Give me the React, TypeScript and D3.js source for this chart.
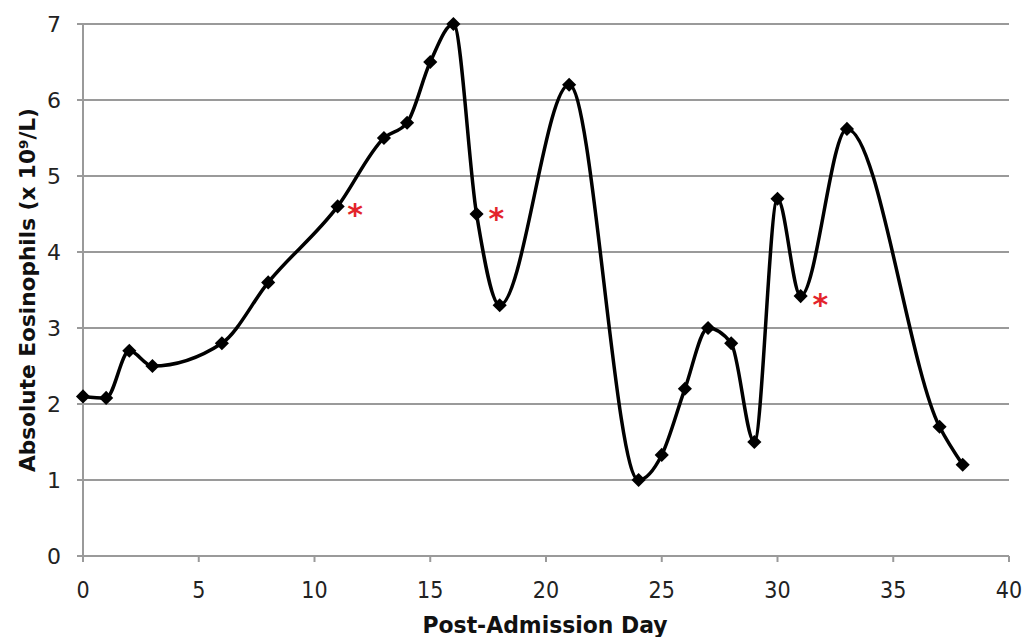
import * as d3 from "d3";

const days = [0, 1, 2, 3, 6, 8, 11, 13, 14, 15, 16, 17, 18, 21, 24, 25, 26, 27, 28, 29, 30, 31, 33, 37, 38];
const eosinophils = [2.1, 2.08, 2.7, 2.5, 2.8, 3.6, 4.6, 5.5, 5.7, 6.5, 7.0, 4.5, 3.3, 6.2, 1.0, 1.33, 2.2, 3.0, 2.8, 1.5, 4.7, 3.42, 5.62, 1.7, 1.2];

const starDays = [11.75, 17.85, 31.85];
const starValues = [4.58, 4.53, 3.39];

const xTicks = [0, 5, 10, 15, 20, 25, 30, 35, 40];
const yTicks = [0, 1, 2, 3, 4, 5, 6, 7];

const W = 1022;
const H = 637;
const margin = { top: 24, right: 13, bottom: 81, left: 83 };

export default function App() {
  const x = d3.scaleLinear().domain([0, 40]).range([margin.left, W - margin.right]);
  const y = d3.scaleLinear().domain([0, 7]).range([H - margin.bottom, margin.top]);

  const pts = days.map((d, i) => [d, eosinophils[i]] as [number, number]);
  const line = d3
    .line<[number, number]>()
    .x((d) => x(d[0]))
    .y((d) => y(d[1]))
    .curve(d3.curveMonotoneX);

  const diamond = d3.symbol(d3.symbolSquare, 100)() ?? "";
  const grid = "#9a9a9a";

  return (
    <svg
      width={W}
      height={H}
      style={{ position: "absolute", left: 0, top: 0, background: "#fff" }}
    >
      {/* gridlines */}
      {yTicks.map((t) => (
        <g key={t}>
          <line x1={margin.left} x2={W - margin.right} y1={y(t)} y2={y(t)} stroke={grid} strokeWidth={2} />
          <line x1={margin.left - 6} x2={margin.left} y1={y(t)} y2={y(t)} stroke={grid} strokeWidth={2} />
          <text
            x={61}
            y={y(t)}
            dy="0.36em"
            textAnchor="end"
            fontFamily="DejaVu Sans, Verdana, sans-serif"
            fontSize={22}
            fill="#222"
          >
            {t}
          </text>
        </g>
      ))}

      {/* axes */}
      <line x1={margin.left} x2={margin.left} y1={y(7)} y2={y(0)} stroke={grid} strokeWidth={2} />
      {xTicks.map((t) => (
        <g key={t}>
          <line x1={x(t)} x2={x(t)} y1={y(0)} y2={y(0) + 6} stroke={grid} strokeWidth={2} />
          <text
            x={x(t)}
            y={598}
            textAnchor="middle"
            fontFamily="DejaVu Sans Condensed, DejaVu Sans, sans-serif"
            fontSize={23}
            fill="#222"
          >
            {t}
          </text>
        </g>
      ))}

      {/* series */}
      <path d={line(pts) ?? ""} fill="none" stroke="#000" strokeWidth={3.5} strokeLinejoin="round" />
      {pts.map((p, i) => (
        <path
          key={i}
          d={diamond}
          transform={`translate(${x(p[0])},${y(p[1])}) rotate(45)`}
          fill="#000"
        />
      ))}

      {/* significance markers */}
      {starDays.map((d, i) => (
        <text
          key={i}
          x={x(d)}
          y={y(starValues[i]) + 17}
          textAnchor="middle"
          fontFamily="DejaVu Sans, sans-serif"
          fontWeight="bold"
          fontSize={30}
          fill="#e3242b"
        >
          *
        </text>
      ))}

      {/* axis titles */}
      <text
        x={545}
        y={633}
        textAnchor="middle"
        fontFamily="DejaVu Sans Condensed, DejaVu Sans, sans-serif"
        fontWeight="bold"
        fontSize={23}
        textLength={245}
        lengthAdjust="spacingAndGlyphs"
        fill="#111"
      >
        Post-Admission Day
      </text>
      <text
        transform="translate(35,290) rotate(-90)"
        textAnchor="middle"
        fontFamily="DejaVu Sans Condensed, DejaVu Sans, sans-serif"
        fontWeight="bold"
        fontSize={22}
        textLength={364}
        lengthAdjust="spacingAndGlyphs"
        fill="#111"
      >
        Absolute Eosinophils (x 10⁹/L)
      </text>
    </svg>
  );
}
